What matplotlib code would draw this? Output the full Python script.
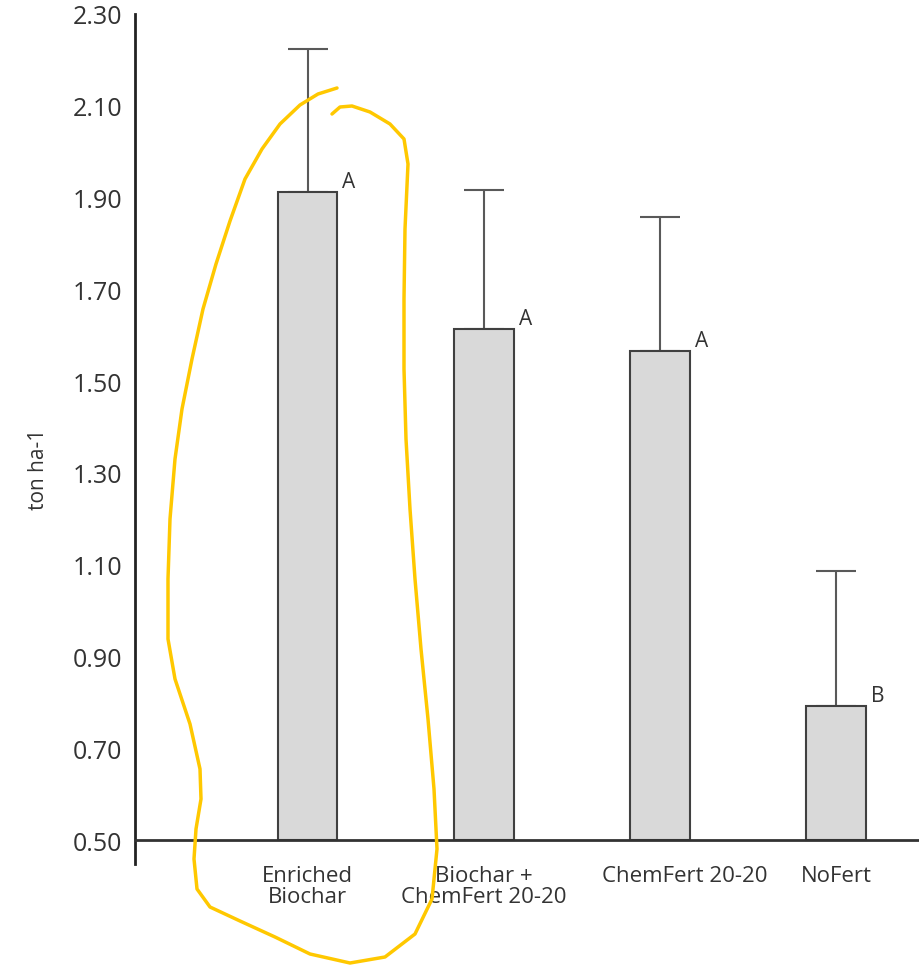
import matplotlib
matplotlib.use("Agg")
import matplotlib.pyplot as plt
import matplotlib.transforms as mtransforms
from matplotlib.lines import Line2D

# -----------------------------
# Data
# -----------------------------
treatments = ["Enriched\nBiochar", "Biochar +\nChemFert 20-20", "ChemFert 20-20", "NoFert"]
means = [1.913, 1.614, 1.565, 0.793]
err_top = [2.224, 1.917, 1.858, 1.087]
groups = ["A", "A", "A", "B"]
y_ticks = [0.50, 0.70, 0.90, 1.10, 1.30, 1.50, 1.70, 1.90, 2.10, 2.30]

# yellow hand-drawn loop around the first bar (pixel coords of the image)
loop_px = [
    (337, 89), (318, 95), (300, 106), (280, 125), (262, 150), (245, 180),
    (230, 222), (216, 265), (203, 310), (192, 360), (182, 410), (175, 460),
    (170, 520), (168, 580), (168, 640), (175, 680), (190, 725), (200, 770),
    (201, 800), (196, 830), (194, 860), (197, 890), (210, 908), (240, 922),
    (275, 938), (310, 955), (350, 964), (385, 958), (415, 935), (432, 900),
    (437, 850), (434, 790), (428, 720), (421, 650), (415, 580), (410, 510),
    (406, 440), (404, 370), (404, 300), (405, 230), (408, 165), (404, 140),
    (390, 125), (370, 113), (352, 107), (340, 108), (332, 115),
]

W, H = 920, 970
bar_color = "#d9d9d9"
edge_color = "#404040"
text_color = "#333333"

plt.rcParams["font.family"] = ["Open Sans", "DejaVu Sans"]

fig = plt.figure(figsize=(W / 100, H / 100), dpi=100)
ax = fig.add_axes([135 / W, 1 - 865 / H, (W - 135) / W, (865 - 15) / H])

x = list(range(len(treatments)))
base = 0.5
heights = [m - base for m in means]

ax.bar(x, heights, bottom=base, width=0.338, color=bar_color,
       edgecolor=edge_color, linewidth=1.5, zorder=2)

# upper error bars only
up = [t - m for t, m in zip(err_top, means)]
ax.errorbar(x, means, yerr=[[0] * len(x), up], fmt="none",
            ecolor="#595959", elinewidth=1.5, capsize=14.5, capthick=1.5,
            zorder=1)

# significance letters
for xi, m, g in zip(x, means, groups):
    ax.annotate(g, xy=(xi + 0.169, m), xytext=(5, 0),
                textcoords="offset pixels", ha="left", va="bottom",
                fontsize=15, color=text_color)

ax.set_xlim(-0.98, 3.476)
ax.set_ylim(0.448, 2.30)
ax.axhline(base, color="#333333", linewidth=2, zorder=3)

ax.set_yticks(y_ticks)
ax.set_yticklabels([f"{v:.2f}" for v in y_ticks])
ax.set_xticks(x)
ax.set_xticklabels(treatments, linespacing=1.0)
ax.tick_params(axis="y", length=0, pad=9, labelsize=18, labelcolor=text_color)
ax.tick_params(axis="x", length=0, pad=1, labelsize=16, labelcolor=text_color)

# the single-line ChemFert label sits a bit right of its bar in the original
shift = mtransforms.ScaledTranslation(0.25, 0, fig.dpi_scale_trans)
lbl = ax.get_xticklabels()[2]
lbl.set_transform(lbl.get_transform() + shift)

ax.set_ylabel("ton ha-1", fontsize=15, color=text_color)
ax.yaxis.set_label_coords(-0.11, 0.465)

for side in ["top", "right", "bottom"]:
    ax.spines[side].set_visible(False)
ax.spines["left"].set_linewidth(2)
ax.spines["left"].set_color("#222222")

# yellow loop annotation
lx = [p[0] / W for p in loop_px]
ly = [1 - p[1] / H for p in loop_px]
fig.add_artist(Line2D(lx, ly, color="#ffc800", linewidth=2.5,
                      solid_capstyle="round", solid_joinstyle="round"))

fig.savefig("out.png", dpi=100)
